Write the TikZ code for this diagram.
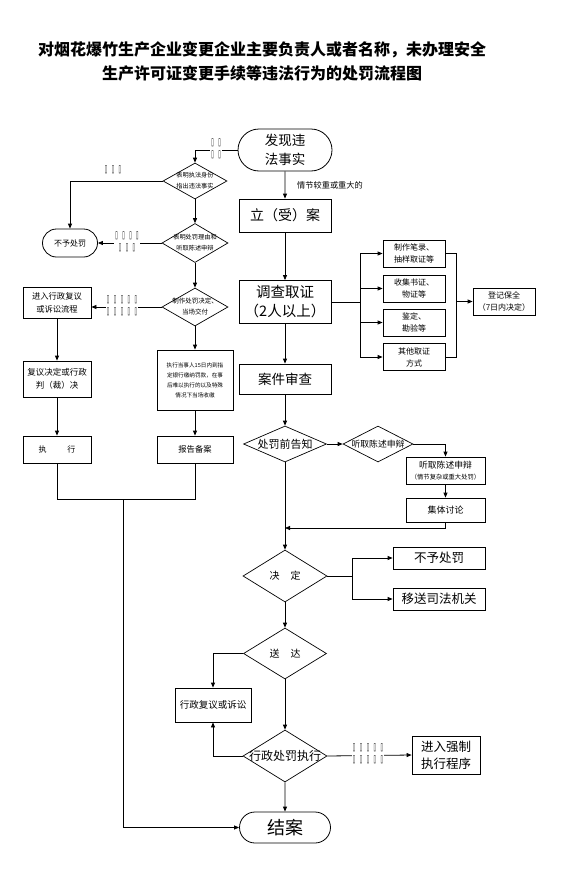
\documentclass[tikz,border=0pt]{standalone}
\usepackage{fontspec}
\usepackage{graphicx}
\newfontfamily\cjk{Noto Sans CJK SC}
\newfontfamily\dejavu{DejaVu Sans}
\usetikzlibrary{shapes.geometric,shapes.misc,arrows.meta}
\newcommand\myfs[2]{\fontsize{#1}{#2}\selectfont}
\newcommand\tf{\scalebox{0.5}[1.15]{▯}}
\newcommand\tg{\hspace{4.5pt}}
\begin{document}
\begin{tikzpicture}[x=1pt,y=-1pt,
 box/.style={draw, rectangle, inner sep=0pt, align=center, line width=0.8pt, font=\cjk},
 term/.style={draw, rounded rectangle, inner sep=0pt, align=center, line width=0.8pt, font=\cjk},
 dia/.style={draw, diamond, inner sep=0pt, line width=0.7pt},
 dtext/.style={align=center, inner sep=0pt},
 arr/.style={-{Triangle[length=5pt,width=4pt]}, line width=0.8pt},
 ln/.style={line width=0.8pt},
 tofu/.style={font=\dejavu\myfs{9}{12}, align=center, fill=white, inner sep=1pt}]
\useasboundingbox (0,0) rectangle (560,878);

% title
\node[font=\cjk\bfseries\myfs{16}{24}, align=center] (title) at (262,61) {对烟花爆竹生产企业变更企业主要负责人或者名称，未办理安全\\生产许可证变更手续等违法行为的处罚流程图};

% main column
\node[term, minimum width=94, minimum height=42, font=\cjk\myfs{13.5}{19}] (start) at (285,150) {发现违\\法事实};
\node[box, minimum width=92, minimum height=33, font=\cjk\myfs{14}{18}] (lian) at (285,215.5) {立（受）案};
\node[box, minimum width=92, minimum height=43, font=\cjk\myfs{14.5}{19}] (diao) at (285,302) {调查取证\\（2人以上）};
\node[box, minimum width=92, minimum height=30, font=\cjk\myfs{13.5}{18}] (shen) at (285,379) {案件审查};
\node[dia, minimum width=83, minimum height=36] (gz) at (285,444) {};
\node[dtext, font=\cjk\myfs{11}{14}] (gzt) at (gz) {处罚前告知};
\node[dia, minimum width=84, minimum height=52] (jd) at (285,576) {};
\node[dtext, font=\cjk\myfs{10}{14}] (jdt) at (jd) {决\hspace{1.1em}定};
\node[dia, minimum width=83, minimum height=51] (sd) at (285,653.5) {};
\node[dtext, font=\cjk\myfs{10}{14}] (sdt) at (sd) {送\hspace{1.1em}达};
\node[dia, minimum width=84, minimum height=52] (zf) at (285,756) {};
\node[dtext, font=\cjk\myfs{12}{14}] (zft) at (zf) {行政处罚执行};
\node[term, minimum width=91, minimum height=31, font=\cjk\myfs{18}{20}] (jiean) at (285,827.5) {结案};

% left column (simple procedure)
\node[dia, minimum width=64, minimum height=36] (d1) at (195,181) {};
\node[dtext, font=\cjk\myfs{6.2}{11}] (d1t) at (d1) {表明执法身份\\指出违法事实};
\node[dia, minimum width=66, minimum height=39] (d2) at (195,243) {};
\node[dtext, font=\cjk\myfs{6.2}{11}] (d2t) at (d2) {表明处罚理由和\\听取陈述申辩};
\node[dia, minimum width=66, minimum height=38] (d3) at (195,307) {};
\node[dtext, font=\cjk\myfs{6.5}{11}] (d3t) at (d3) {制作处罚决定、\\当场交付};
\node[term, minimum width=55, minimum height=28, font=\cjk\myfs{8}{10}] (nsl) at (70,243) {不予处罚};
\node[box, minimum width=68, minimum height=31, font=\cjk\myfs{8.3}{13}] (jr) at (57,302.5) {进入行政复议\\或诉讼流程};
\node[box, minimum width=68, minimum height=36, font=\cjk\myfs{8.5}{13}] (fy) at (57,379) {复议决定或行政\\判（裁）决};
\node[box, minimum width=68, minimum height=27, font=\cjk\myfs{8}{10}] (zx) at (57,449.5) {执\hspace{2.6em}行};
\node[box, minimum width=76, minimum height=60, font=\cjk\myfs{5.6}{10}] (zxd) at (195,380) {执行当事人15日内到指\\定银行缴纳罚款，在事\\后难以执行的以及特殊\\情况下当场收缴};
\node[box, minimum width=76, minimum height=27, font=\cjk\myfs{8.3}{10}] (bb) at (195,449.5) {报告备案};

% evidence boxes
\node[box, minimum width=62, minimum height=27, font=\cjk\myfs{8}{12}] (e1) at (414,253.5) {制作笔录、\\抽样取证等};
\node[box, minimum width=62, minimum height=27, font=\cjk\myfs{8}{12}] (e2) at (414,288.5) {收集书证、\\物证等};
\node[box, minimum width=62, minimum height=27, font=\cjk\myfs{8}{12}] (e3) at (414,322.5) {鉴定、\\勘验等};
\node[box, minimum width=62, minimum height=27, font=\cjk\myfs{8}{12}] (e4) at (414,357) {其他取证\\方式};
\node[box, minimum width=62, minimum height=27, font=\cjk\myfs{8}{12}] (dj) at (504,301.5) {登记保全\\（7日内决定）};

% hearing
\node[dia, minimum width=70, minimum height=36] (tc) at (378,444) {};
\node[dtext, font=\cjk\myfs{8.8}{12}] (tct) at (tc) {听取陈述申辩};
\node[box, minimum width=79, minimum height=27, font=\cjk\myfs{8.8}{11}] (tb) at (445.5,470.5) {听取陈述申辩\\{\myfs{6.3}{9}（情节复杂或重大处罚）}};
\node[box, minimum width=79, minimum height=24, font=\cjk\myfs{9}{11}] (jt) at (445.5,510) {集体讨论};

% decision outcomes
\node[box, minimum width=92, minimum height=22, font=\cjk\myfs{12.5}{14}] (bz) at (439,558) {不予处罚};
\node[box, minimum width=92, minimum height=22, font=\cjk\myfs{12.5}{14}] (ys) at (439,599) {移送司法机关};
\node[box, minimum width=76, minimum height=34, font=\cjk\myfs{9.5}{12}] (fs) at (213,705) {行政复议或诉讼};
\node[box, minimum width=68, minimum height=38, font=\cjk\myfs{12.5}{17}] (qz) at (446,755) {进入强制\\执行程序};

% ---- connectors: main
\draw[arr] (start) -- (lian);
\node[font=\cjk\myfs{8.2}{10}, anchor=west, inner sep=0pt] (qj) at (297,185) {情节较重或重大的};
\draw[arr] (lian) -- (diao);
\draw[arr] (diao) -- (shen);
\draw[arr] (shen) -- (gz);
\draw[arr] (gz) -- (jd);
\draw[arr] (jd) -- (sd);
\draw[arr] (sd) -- (zf);
\draw[arr] (zf) -- (jiean);

% evidence branches
\coordinate (eb) at (360,302);
\draw[ln] (diao.east) -- (eb);
\draw[ln] (eb |- e1.west) -- (eb |- e4.west);
\foreach \e in {e1,e2,e3,e4} \draw[arr] (eb |- \e.west) -- (\e.west);
\coordinate (er) at (456,302);
\draw[ln] (e1.east) -- (er |- e1.east) -- (er |- e4.east) -- (e4.east);
\draw[arr] (er |- dj.west) -- (dj.west);

% hearing branch
\draw[arr] (gz.east) -- (tc.west);
\draw[arr] (tc.east) -| (tb.north);
\draw[arr] (tb) -- (jt);
\coordinate (hb) at (285,528);
\draw[arr] (jt.south) |- (hb);

% decision branches
\coordinate (db) at (352,576);
\draw[ln] (jd.east) -- (db);
\draw[ln] (db |- bz.west) -- (db |- ys.west);
\draw[arr] (db |- bz.west) -- (bz.west);
\draw[arr] (db |- ys.west) -- (ys.west);

% delivery / execution
\draw[arr] (sd.west) -| (fs.north);
\draw[arr] (zf.west) -| (fs.south);
\draw[arr] (zf.east) -- (qz.west);
\node[tofu] (t4) at (368,754) {\tf\tg\tf\tg\tf\tg\tf\tg\tf\\\tf\tg\tf\tg\tf\tg\tf\tg\tf};

% ---- left: simple procedure
\draw[arr] (start.west) -| (d1.north);
\node[tofu] (t0) at (216,149) {\tf\tg\tf\\\tf\tg\tf};
\draw[arr] (d1.west) -| (nsl.north);
\node[font=\dejavu\myfs{9}{12}, inner sep=0pt] (t1) at (113,170) {\tf\tg\tf\tg\tf};
\draw[arr] (d1) -- (d2);
\draw[arr] (d2.west) -- (nsl.east);
\node[tofu] (t2) at (127,242) {\tf\tg\tf\tg\tf\tg\tf\\\tf\tg\tf\tg\tf};
\draw[arr] (d2) -- (d3);
\draw[arr] (d3.west) -- (d3.west -| jr.east);
\node[tofu] (t3) at (122,306) {\tf\tg\tf\tg\tf\tg\tf\tg\tf\\\tf\tg\tf\tg\tf\tg\tf\tg\tf};
\draw[arr] (jr) -- (fy);
\draw[arr] (fy) -- (zx);
\draw[arr] (d3) -- (zxd);
\draw[arr] (zxd) -- (bb);

% join to end
\coordinate (jn) at (123,499);
\draw[ln] (zx.south) |- (bb.south |- jn) -- (bb.south);
\draw[arr] (jn) |- (jiean.west);
\end{tikzpicture}
\end{document}
